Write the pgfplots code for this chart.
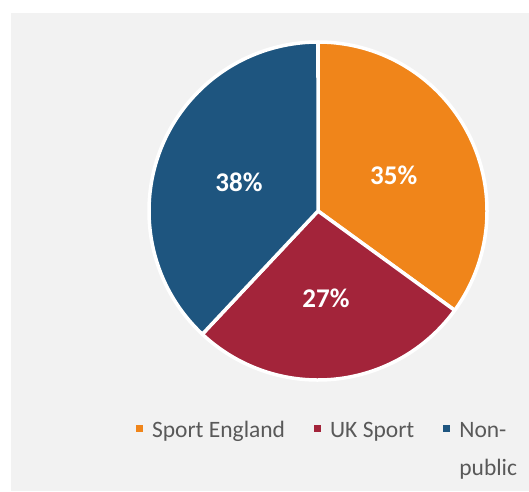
\documentclass[border=0pt]{standalone}
\usepackage{pgfplots}
\pgfplotsset{compat=1.18}
\usepackage{fontspec}
\setmainfont{Carlito}
\definecolor{seOrange}{HTML}{F0851A}
\definecolor{ukRed}{HTML}{A3243A}
\definecolor{npBlue}{HTML}{1E557F}
\definecolor{bgGray}{HTML}{F2F2F2}
\definecolor{txtGray}{HTML}{595959}
% shares (%): Sport England 35, UK Sport 27, Non-public 38
% angles: 90 -> -36 -> -133.2 -> -270 (clockwise from 12 o'clock)
\begin{document}
\begin{tikzpicture}
\path[use as bounding box] (0,0) rectangle (529pt,491pt);
\begin{axis}[
  scale only axis, width=529pt, height=491pt,
  xmin=0, xmax=529, ymin=0, ymax=491,
  hide axis, clip=false,
  legend columns=3,
  legend image code/.code={\path[draw=none,fill=none] (0pt,13.5pt) -- (7pt,13.5pt); \fill[#1,draw=none] (0pt,-7pt) rectangle (7pt,0pt);},
  legend style={at={(axis cs:136,79.9)}, anchor=north west,
    draw=none, fill=none, inner sep=0pt, outer sep=0pt,
    nodes={inner sep=0pt, text=txtGray, font=\fontsize{23.5}{38}\selectfont},
    column sep=9pt,
    /tikz/every even column/.append style={column sep=29pt}},
]
% background panel
\addplot[fill=bgGray, draw=none, forget plot] coordinates {(11,0) (529,0) (529,478) (11,478)} -- cycle;
% Sport England 35%
\addplot[fill=seOrange, draw=white, line width=3.5pt, line join=round]
  coordinates {(318,280) (318,449)} arc[start angle=90, end angle=-36, radius=169pt] -- cycle;
\addlegendentry{\strut Sport England}
% UK Sport 27%
\addplot[fill=ukRed, draw=white, line width=3.5pt, line join=round]
  coordinates {(318,280) (454.72,180.66)} arc[start angle=-36, end angle=-133.2, radius=169pt] -- cycle;
\addlegendentry{\strut UK Sport}
% Non-public 38%
\addplot[fill=npBlue, draw=white, line width=3.5pt, line join=round]
  coordinates {(318,280) (202.31,156.80)} arc[start angle=-133.2, end angle=-270, radius=169pt] -- cycle;
\addlegendentry{\begin{tabular}[t]{@{}l@{}}Non-\\public\end{tabular}}
% labels
\node[text=white, font=\fontsize{27}{32}\selectfont\bfseries] at (axis cs:393.7,316) {35\%};
\node[text=white, font=\fontsize{27}{32}\selectfont\bfseries] at (axis cs:326,193) {27\%};
\node[text=white, font=\fontsize{27}{32}\selectfont\bfseries] at (axis cs:239,308.5) {38\%};
\end{axis}
\end{tikzpicture}
\end{document}
